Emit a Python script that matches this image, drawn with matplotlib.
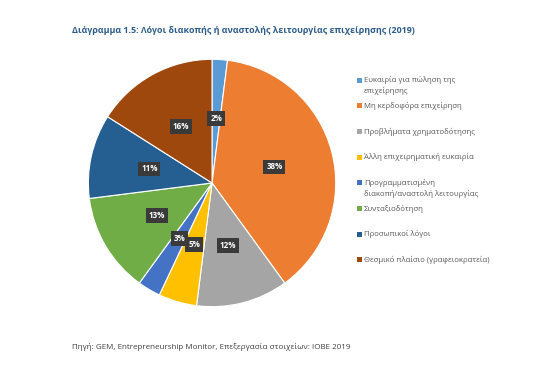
import matplotlib
matplotlib.use("Agg")
from matplotlib import pyplot as plt
from matplotlib.patches import Rectangle

plt.rcParams['font.family'] = ['Open Sans', 'DejaVu Sans']

categories = ["Ευκαιρία για πώληση της\nεπιχείρησης",
              "Μη κερδοφόρα επιχείρηση",
              "Προβλήματα χρηματοδότησης",
              "Άλλη επιχειρηματική ευκαιρία",
              "Προγραμματισμένη\nδιακοπή/αναστολή λειτουργίας",
              "Συνταξιοδότηση",
              "Προσωπικοί λόγοι",
              "Θεσμικό πλαίσιο (γραφειοκρατεία)"]
values = [2, 38, 12, 5, 3, 13, 11, 16]
colors = ["#5B9BD5", "#ED7D31", "#A5A5A5", "#FFC000",
          "#4472C4", "#70AD47", "#255E91", "#9E480E"]

fig = plt.figure(figsize=(5.58, 3.82), dpi=100)
ax = fig.add_axes([0.156, 0.194, 0.448, 0.654])

wedges, texts = ax.pie(values, colors=colors, startangle=90, counterclock=False,
                       labels=[f"{v}%" for v in values], labeldistance=0.52,
                       wedgeprops=dict(edgecolor="white", linewidth=0.8))
for t in texts:
    t.set(color="white", fontsize=5.8, fontweight="bold", ha="center", va="center",
          bbox=dict(boxstyle="square,pad=0.35", fc="#3A3A3A", ec="none"))
ax.set_xlim(-1.01, 1.01)
ax.set_ylim(-1.01, 1.01)
ax.set_aspect("equal")

fig.text(0.129, 0.921, "Διάγραμμα 1.5: Λόγοι διακοπής ή αναστολής λειτουργίας επιχείρησης (2019)",
         color="#2E5C8A", fontsize=6.4, fontweight="bold", va="center")
fig.text(0.129, 0.092, "Πηγή: GEM, Entrepreneurship Monitor, Επεξεργασία στοιχείων: ΙΟΒΕ 2019",
         color="#404040", fontsize=5.8, va="center")

# legend, Excel-style even slots
top = 1 - 80 / 382
step = 25.7 / 382
for i, (lab, c) in enumerate(zip(categories, colors)):
    y = top - i * step
    fig.patches.append(Rectangle((357 / 558, y - 2.5 / 382), 5 / 558, 5 / 382,
                                 transform=fig.transFigure, fc=c, ec="none"))
    fig.text(364 / 558, y + 4 / 382, lab, color="#595959", fontsize=5.6,
             va="top", linespacing=1.5)

plt.savefig("out.png", dpi=100)
